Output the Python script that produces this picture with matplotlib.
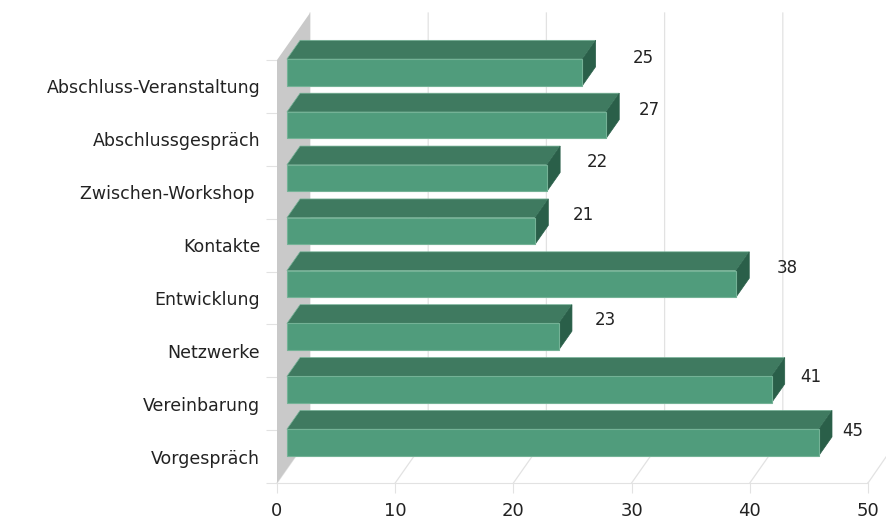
"""
Horizontal pseudo-3D bar chart of session counts per phase.
"""
import matplotlib
matplotlib.use("Agg")
import matplotlib.pyplot as plt
from matplotlib.patches import Polygon

categories = ["Vorgespräch", "Vereinbarung", "Netzwerke", "Entwicklung",
              "Kontakte", "Zwischen-Workshop ", "Abschlussgespräch",
              "Abschluss-Veranstaltung"]
values = [45, 41, 23, 38, 21, 22, 27, 25]
x_ticks = [0, 10, 20, 30, 40, 50]

# label nudges in px, away from the bar end and up/down
label_dx = [21, 26, 33, 38, 35, 37, 30, 48]
label_dy = [-1, 0, 4, 4, 4, 4, 3, 2]

GRID = "#e2e2e2"
WALL = "#c9c9c9"
FRONT = "#509c7c"
TOP = "#3f7a60"
SIDE = "#2a5f49"
EDGE = "#74b296"
TEXT = "#222222"

W, H = 886, 520
LEFT, RIGHT, BASE, CEIL = 277, 868, 483, 60
DEPTH_X, DEPTH_Y = 33, 47

fig = plt.figure(figsize=(W / 100, H / 100), dpi=100)
ax = fig.add_axes([LEFT / W, 1 - BASE / H, (RIGHT - LEFT) / W, (BASE - CEIL) / H])
ax.set_xlim(0, 50)
ax.set_ylim(0, len(categories))
ax.patch.set_visible(False)
for name in ["top", "right", "left"]:
    ax.spines[name].set_visible(False)
ax.spines["bottom"].set_color(GRID)

ux = 50 / (RIGHT - LEFT)
uy = len(categories) / (BASE - CEIL)


def proj(x, y, d):
    # d is the depth into the chart, 0 at the front plane and 1 at the back wall
    return (x + d * DEPTH_X * ux, y + d * DEPTH_Y * uy)


def face(pts, **kw):
    ax.add_patch(Polygon(pts, closed=True, clip_on=False, **kw))


# back wall and floor grid
for t in x_ticks:
    ax.plot(*zip(proj(t, 0, 0), proj(t, 0, 1), proj(t, len(categories), 1)),
            color=GRID, lw=0.9, clip_on=True if t == 50 else False, zorder=1)
ax.plot(*zip(proj(50, 0, 0), (50 + 18 * ux, 26 * uy)), color=GRID, lw=0.9,
        clip_on=False, zorder=1)

# grey side wall
n = len(categories)
face([proj(0, 0, 0), proj(0, n, 0), proj(0, n, 1), proj(0, 0, 1)],
     facecolor=WALL, edgecolor="none", zorder=2)

BAR_LO, BAR_HI = 0.25, 0.75
D0, D1 = 0.3, 0.7
for i, v in enumerate(values):
    lo, hi = i + BAR_LO, i + BAR_HI
    face([proj(0, hi, D0), proj(v, hi, D0), proj(v, hi, D1), proj(0, hi, D1)],
         facecolor=TOP, edgecolor=EDGE, lw=0.5, zorder=3 + i * 0.01)
    face([proj(v, lo, D0), proj(v, hi, D0), proj(v, hi, D1), proj(v, lo, D1)],
         facecolor=SIDE, edgecolor=SIDE, lw=0.5, zorder=3 + i * 0.01)
    face([proj(0, lo, D0), proj(v, lo, D0), proj(v, hi, D0), proj(0, hi, D0)],
         facecolor=FRONT, edgecolor=EDGE, lw=0.8, zorder=3 + i * 0.01)
    end = proj(v, hi, D1)
    ax.annotate(str(v), xy=(end[0], i + 0.5), xytext=(label_dx[i] * 0.72, label_dy[i] * 0.72 + 19),
                textcoords="offset points", ha="center", va="center",
                fontsize=12, color=TEXT, zorder=5)

ax.set_xticks(x_ticks)
ax.tick_params(axis="x", length=7, color=GRID, labelsize=13, labelcolor=TEXT, pad=7)
ax.set_yticks(range(n + 1))
ax.set_yticklabels([])
ax.set_yticks([i + 0.5 for i in range(n)], minor=True)
ax.set_yticklabels(categories, minor=True)
ax.tick_params(axis="y", which="major", length=8, color=GRID)
ax.tick_params(axis="y", which="minor", length=0, labelsize=12.5, labelcolor=TEXT, pad=12)

fig.savefig("out.png", dpi=100)
